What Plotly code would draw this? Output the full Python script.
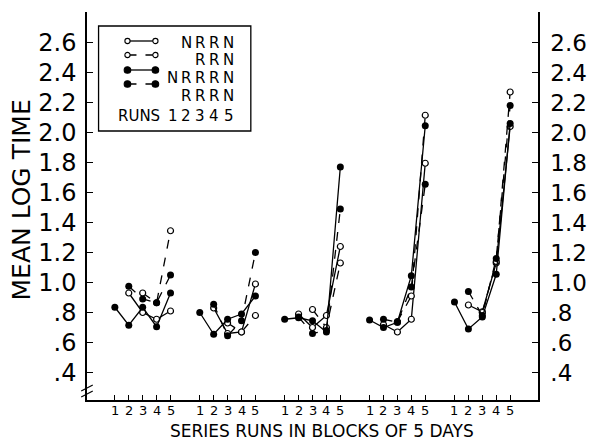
import plotly.graph_objects as go

# ---------------- data ----------------
blocks = [1, 2, 3, 4, 5]
runs = [1, 2, 3, 4, 5]
run_labels = ["1", "2", "3", "4", "5"]
y_tick_vals = [0.4, 0.6, 0.8, 1.0, 1.2, 1.4, 1.6, 1.8, 2.0, 2.2, 2.4, 2.6]
y_tick_text = [".4", ".6", ".8", "1.0", "1.2", "1.4", "1.6", "1.8", "2.0", "2.2", "2.4", "2.6"]

# values per block, runs 1..5 (None = not run)
nrrn = [  # open circles, solid  (N R R N on runs 2-5)
    [None, 0.93, 0.80, 0.755, 0.81],
    [None, 0.83, 0.66, 0.67, 0.99],
    [None, 0.79, 0.70, 0.78, 1.24],
    [None, 0.72, 0.67, 0.755, 1.795],
    [None, 0.85, 0.805, 1.13, 2.04],
]
rrn = [  # open circles, dashed (R R N on runs 3-5)
    [None, None, 0.93, 0.865, 1.345],
    [None, None, 0.73, 0.67, 0.78],
    [None, None, 0.82, 0.70, 1.13],
    [None, None, 0.74, 0.91, 2.115],
    [None, None, 0.80, 1.14, 2.27],
]
nrrrn = [  # filled circles, solid (N R R R N on runs 1-5)
    [0.835, 0.715, 0.835, 0.705, 0.93],
    [0.80, 0.655, 0.755, 0.79, 0.91],
    [0.755, 0.765, 0.745, 0.67, 1.77],
    [0.75, 0.70, 0.735, 1.045, 2.045],
    [0.87, 0.69, 0.77, 1.055, 2.06],
]
rrrn = [  # filled circles, dashed (R R R N on runs 2-5)
    [None, 0.975, 0.89, 0.865, 1.05],
    [None, 0.855, 0.645, 0.745, 1.20],
    [None, 0.77, 0.66, 0.68, 1.49],
    [None, 0.755, 0.735, 0.97, 1.655],
    [None, 0.94, 0.78, 1.16, 2.18],
]

legend_rows = [["", "N", "R", "R", "N"],
               ["", "", "R", "R", "N"],
               ["N", "R", "R", "R", "N"],
               ["", "R", "R", "R", "N"]]

# ---------------- layout helpers ----------------
BLOCK_STEP = 6.1
W, H = 599, 443
ML, MR, MT, MB = 87, 44, 12, 43
PW, PH = W - ML - MR, H - MT - MB
FONT = "DejaVu Sans"


def xpos(b, r):
    return (b - 1) * BLOCK_STEP + r


def series_xy(vals):
    xs, ys = [], []
    for b, row in zip(blocks, vals):
        for r, v in zip(runs, row):
            if v is not None:
                xs.append(xpos(b, r))
                ys.append(v)
        xs.append(None)
        ys.append(None)
    return xs, ys


def px(x):
    return (x - ML) / PW


def py(y):
    return (H - MB - y) / PH


fig = go.Figure()

styles = [
    (nrrn, "solid", "open"),
    (rrn, "dash", "open"),
    (nrrrn, "solid", "filled"),
    (rrrn, "dash", "filled"),
]
for vals, dash, kind in styles:
    xs, ys = series_xy(vals)
    if kind == "open":
        marker = dict(symbol="circle", size=6, color="white",
                      line=dict(color="black", width=1.2))
    else:
        marker = dict(symbol="circle", size=7, color="black",
                      line=dict(color="black", width=0))
    fig.add_trace(go.Scatter(
        x=xs, y=ys, mode="lines+markers", connectgaps=False,
        line=dict(color="black", width=1.3, dash=dash),
        marker=marker, showlegend=False, hoverinfo="skip"))

# invisible trace to activate right axis
fig.add_trace(go.Scatter(x=[xpos(1, 1)], y=[1.0], yaxis="y2", mode="markers",
                         marker=dict(opacity=0), showlegend=False, hoverinfo="skip"))

tickvals_x = [xpos(b, r) for b in blocks for r in runs]
ticktext_x = [run_labels[r - 1] for b in blocks for r in runs]

yr = [0.4 - (H - MB - 372.5) / 150.0, 2.6 + (42.5 - MT) / 150.0]

fig.update_layout(
    width=W, height=H,
    margin=dict(l=ML, r=MR, t=MT, b=MB),
    paper_bgcolor="white", plot_bgcolor="white",
    font=dict(family=FONT, color="black"),
    xaxis=dict(range=[-1, 31.4], tickvals=tickvals_x, ticktext=ticktext_x,
               ticks="inside", ticklen=5, tickwidth=1, tickcolor="black",
               showticklabels=False,
               showline=True, linecolor="black", linewidth=1.5,
               showgrid=False, zeroline=False),
    yaxis=dict(range=yr, tickvals=y_tick_vals, ticktext=y_tick_text,
               ticks="inside", ticklen=6, tickwidth=1, tickcolor="black",
               showline=True, linecolor="black", linewidth=1.5,
               showgrid=False, zeroline=False, ticklabelstandoff=4,
               tickfont=dict(size=24, family=FONT)),
    yaxis2=dict(range=yr, tickvals=y_tick_vals, ticktext=y_tick_text,
                overlaying="y", side="right",
                ticks="inside", ticklen=6, tickwidth=1, tickcolor="black",
                showline=True, linecolor="black", linewidth=1.5,
                showgrid=False, zeroline=False, ticklabelstandoff=6,
                tickfont=dict(size=23, family=FONT)),
)

annotations = []
# x tick labels (run numbers under each block)
for xv, tt in zip(tickvals_x, ticktext_x):
    annotations.append(dict(text=tt, x=xv, y=py(411), xref="x", yref="paper",
                            showarrow=False, font=dict(size=13, family=FONT),
                            xanchor="center", yanchor="middle"))
# axis titles
annotations.append(dict(text="MEAN LOG TIME", x=px(19), y=py(200), xref="paper", yref="paper",
                        textangle=-90, showarrow=False, font=dict(size=25, family=FONT),
                        xanchor="center", yanchor="middle"))
annotations.append(dict(text="SERIES RUNS IN BLOCKS OF 5 DAYS", x=px(331), y=py(431),
                        xref="paper", yref="paper", showarrow=False,
                        font=dict(size=17, family=FONT), xanchor="center", yanchor="middle"))

# legend box
shapes = [dict(type="rect", xref="paper", yref="paper", x0=px(99), x1=px(257),
               y0=py(131), y1=py(26), line=dict(color="black", width=1.3),
               fillcolor="white", layer="above")]
sample_y = [41, 55, 70, 84]
for (vals, dash, kind), sy in zip(styles, sample_y):
    shapes.append(dict(type="line", xref="paper", yref="paper", x0=px(129), x1=px(158),
                       y0=py(sy), y1=py(sy), line=dict(color="black", width=1.3, dash=dash),
                       layer="above"))
    for cx in (129, 158):
        r = 2.6 if kind == "open" else 3.3
        shapes.append(dict(type="circle", xref="paper", yref="paper",
                           xsizemode="pixel", ysizemode="pixel",
                           xanchor=px(cx), yanchor=py(sy),
                           x0=-r, x1=r, y0=-r, y1=r,
                           fillcolor="white" if kind == "open" else "black",
                           line=dict(color="black", width=1.1), layer="above"))

col_x = [176, 190, 204, 219, 234]
row_y = [43, 60, 78, 96]
for row, ry in zip(legend_rows, row_y):
    for ch, cx in zip(row, col_x):
        if ch:
            annotations.append(dict(text=ch, x=px(cx), y=py(ry), xref="paper", yref="paper",
                                    showarrow=False, font=dict(size=15, family=FONT),
                                    xanchor="center", yanchor="middle"))
annotations.append(dict(text="RUNS", x=px(141), y=py(116), xref="paper", yref="paper",
                        showarrow=False, font=dict(size=15, family=FONT),
                        xanchor="center", yanchor="middle"))
for lab, cx in zip(run_labels, col_x):
    annotations.append(dict(text=lab, x=px(cx), y=py(116), xref="paper", yref="paper",
                            showarrow=False, font=dict(size=15, family=FONT),
                            xanchor="center", yanchor="middle"))

# axis break marks
for yy in (388, 394):
    shapes.append(dict(type="line", xref="paper", yref="paper", x0=px(81), x1=px(93),
                       y0=py(yy + 3), y1=py(yy - 3), line=dict(color="black", width=1.2)))

fig.update_layout(annotations=annotations, shapes=shapes)
fig.write_html("out.html", config={"displayModeBar": False},
               post_script="document.body.style.margin='0px';document.body.style.padding='0px';")
